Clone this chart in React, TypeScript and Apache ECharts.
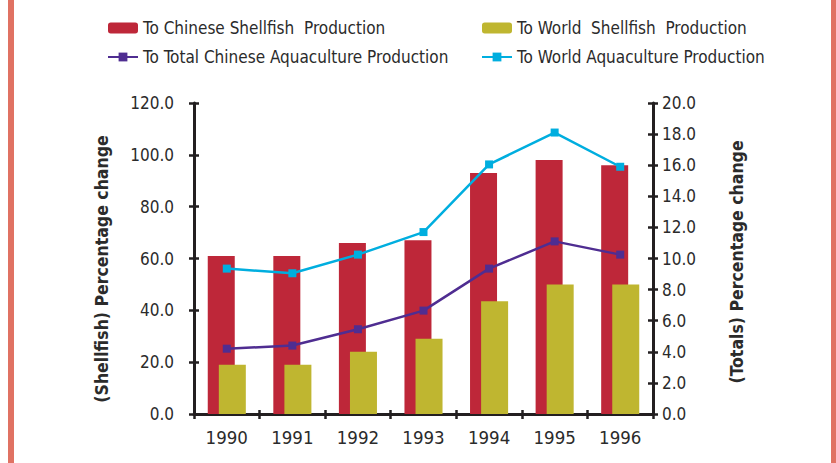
import React, { useEffect, useRef } from "react";
import * as echarts from "echarts";

const years = ["1990", "1991", "1992", "1993", "1994", "1995", "1996"];
const chineseShellfish = [61, 61, 66, 67, 93, 98, 96];
const worldShellfish = [19, 19, 24, 29, 43.5, 50, 50];
const totalChineseAqua = [4.2, 4.4, 5.45, 6.65, 9.35, 11.1, 10.25];
const worldAqua = [9.35, 9.05, 10.25, 11.7, 16.05, 18.1, 15.9];
const leftTicks = { min: 0, max: 120, interval: 20 };
const rightTicks = { min: 0, max: 20, interval: 2 };

const FONT = "'Liberation Sans Narrow', 'DejaVu Sans Condensed', 'Roboto', sans-serif";
const TXT = "#2b2b2b";
const AX = "#231f20";

export default function App() {
  const ref = useRef<HTMLDivElement>(null);
  useEffect(() => {
    if (!ref.current) return;
    const chart = echarts.init(ref.current, undefined, { renderer: "svg" });
    const baseY = (pos: "left" | "right", t: any, labels: boolean, inside: boolean, isRight: boolean) => ({
      type: "value",
      position: pos,
      min: t.min,
      max: t.max,
      interval: t.interval,
      splitLine: { show: false },
      axisLine: { show: labels, lineStyle: { color: AX, width: 3 } },
      axisTick: { show: true, inside, length: 5, lineStyle: { color: AX, width: 2.5 } },
      axisLabel: {
        show: labels,
        formatter: (v: number) => v.toFixed(1),
        color: TXT,
        fontFamily: FONT,
        fontSize: 17,
        margin: isRight ? 9 : 20,
      },
    });
    const legendCommon = {
      orient: "vertical",
      top: 18,
      padding: 0,
      itemWidth: 30,
      itemHeight: 11,
      itemGap: 9,
      textStyle: { fontFamily: FONT, fontSize: 17, color: TXT, lineHeight: 20 },
    };
    chart.setOption({
      animation: false,
      backgroundColor: "#ffffff",
      grid: { left: 194, right: 183, top: 103, bottom: 49, containLabel: false },
      legend: [
        {
          ...legendCommon,
          data: ["To Chinese Shellfish  Production", "To Total Chinese Aquaculture Production"],
          left: 107,
        },
        {
          ...legendCommon,
          data: ["To World  Shellfish  Production", "To World Aquaculture Production"],
          left: 481,
        },
      ],
      xAxis: [
        {
          type: "category",
          data: years,
          position: "bottom",
          axisLine: { lineStyle: { color: AX, width: 3 } },
          axisTick: { show: true, length: 5, lineStyle: { color: AX, width: 2.5 } },
          axisLabel: { color: TXT, fontFamily: FONT, fontSize: 18.5, margin: 14 },
        },
        {
          type: "category",
          data: years,
          position: "bottom",
          axisLine: { show: false },
          axisTick: { show: true, inside: true, length: 4, lineStyle: { color: AX, width: 2.5 } },
          axisLabel: { show: false },
        },
      ],
      yAxis: [
        baseY("left", leftTicks, true, false, false),
        baseY("right", rightTicks, true, false, true),
        baseY("left", leftTicks, false, true, false),
        baseY("right", rightTicks, false, true, true),
      ],
      graphic: [
        { type: "rect", shape: { x: 8, y: 0, width: 6, height: 463 }, style: { fill: "#E07263" } },
        { type: "rect", shape: { x: 831, y: 0, width: 5, height: 463 }, style: { fill: "#E07263" } },
        {
          type: "text",
          x: 102,
          y: 269,
          rotation: Math.PI / 2,
          style: {
            text: "(Shellfish) Percentage change",
            textAlign: "center",
            textVerticalAlign: "middle",
            fontFamily: FONT,
            fontWeight: "bold",
            fontSize: 17.5,
            fill: TXT,
          },
        },
        {
          type: "text",
          x: 737,
          y: 262,
          rotation: Math.PI / 2,
          style: {
            text: "(Totals) Percentage change",
            textAlign: "center",
            textVerticalAlign: "middle",
            fontFamily: FONT,
            fontWeight: "bold",
            fontSize: 17.5,
            fill: TXT,
          },
        },
      ],
      series: [
        {
          name: "To Chinese Shellfish  Production",
          type: "bar",
          data: chineseShellfish,
          barWidth: 27,
          barGap: "-59%",
          itemStyle: { color: "#BE2739" },
          yAxisIndex: 0,
        },
        {
          name: "To World  Shellfish  Production",
          type: "bar",
          data: worldShellfish,
          barWidth: 27,
          barGap: "-59%",
          itemStyle: { color: "#BFB630" },
          yAxisIndex: 0,
        },
        {
          name: "To Total Chinese Aquaculture Production",
          type: "line",
          data: totalChineseAqua,
          yAxisIndex: 1,
          symbol: "rect",
          symbolSize: 8,
          lineStyle: { color: "#4F2D91", width: 2.5 },
          itemStyle: { color: "#4F2D91" },
          z: 5,
        },
        {
          name: "To World Aquaculture Production",
          type: "line",
          data: worldAqua,
          yAxisIndex: 1,
          symbol: "rect",
          symbolSize: 8,
          lineStyle: { color: "#00AEDF", width: 2.5 },
          itemStyle: { color: "#00AEDF" },
          z: 5,
        },
      ],
    });
    return () => chart.dispose();
  }, []);
  return (
    <div
      ref={ref}
      style={{ position: "fixed", left: 0, top: 0, width: 836, height: 463, background: "#fff" }}
    />
  );
}
